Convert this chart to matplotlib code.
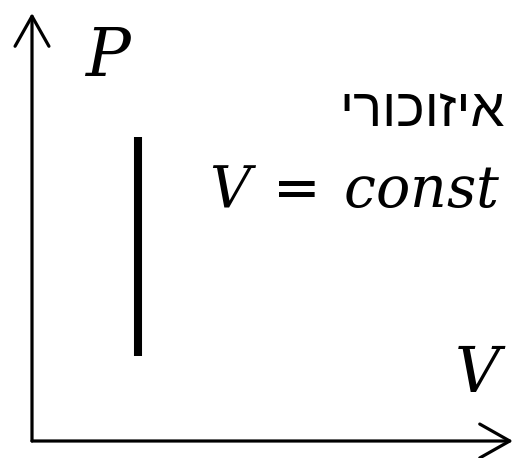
import matplotlib
matplotlib.use("Agg")
import matplotlib.pyplot as plt

plt.rcParams["mathtext.fontset"] = "custom"
plt.rcParams["mathtext.it"] = "DejaVu Serif:italic"
plt.rcParams["mathtext.rm"] = "DejaVu Serif"

# isochoric process: constant volume, pressure changes
V_iso = [0.221, 0.221]
P_iso = [0.199, 0.710]

axis_label_P = "P"
axis_label_V = "V"
title_he = "איזוכורי"
formula = r"$V\:=\:const$"

fig = plt.figure(figsize=(5.16, 4.58), dpi=100)
ax = fig.add_axes([32 / 516, 17 / 458, 481 / 516, 428 / 458])
ax.set_xlim(0, 1)
ax.set_ylim(0, 1)
ax.axis("off")

# axes arrows
arrow = dict(arrowstyle="->, head_length=1.08, head_width=0.61", lw=2.3,
             color="black", mutation_scale=20, shrinkA=0, shrinkB=0)
ax.annotate("", xy=(0, 1), xytext=(0, 0), arrowprops=arrow, annotation_clip=False)
ax.annotate("", xy=(1, 0), xytext=(0, 0), arrowprops=arrow, annotation_clip=False)

ax.plot(V_iso, P_iso, color="black", lw=5.8, solid_capstyle="butt")

ax.text(0.158, 0.897, "$" + axis_label_P + "$", fontsize=48, ha="center", va="center")
ax.text(0.931, 0.154, "$" + axis_label_V + "$", fontsize=45, ha="center", va="center")
# matplotlib has no bidi, so reverse the Hebrew word for display
ax.text(0.983, 0.769, title_he[::-1], fontsize=39, family=["Liberation Sans", "DejaVu Sans"],
        ha="right", va="center")
ax.text(0.975, 0.547, formula, fontsize=41, ha="right", va="baseline")

fig.savefig("out.png", dpi=100)
